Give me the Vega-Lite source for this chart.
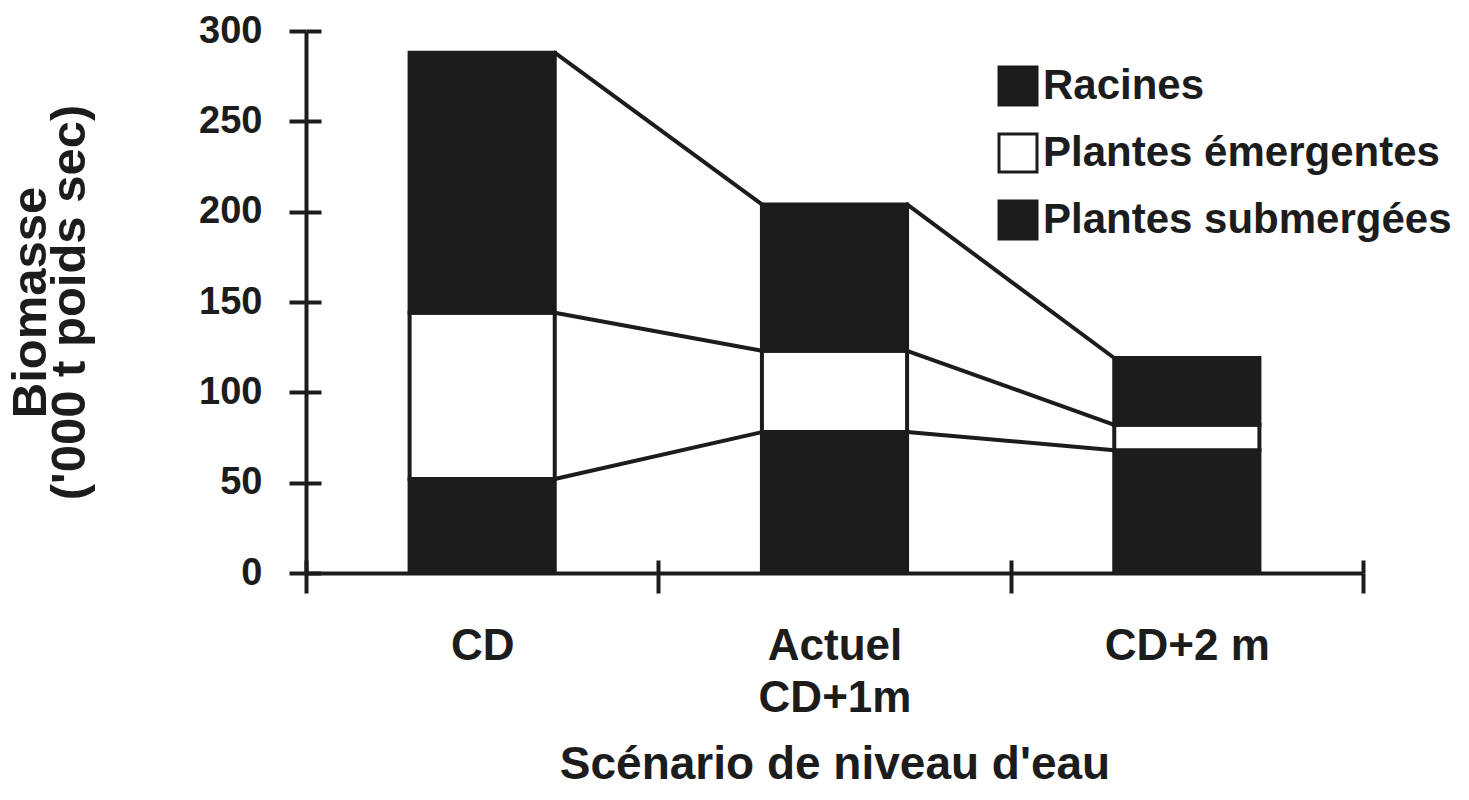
{
  "$schema": "https://vega.github.io/schema/vega-lite/v6.json",
  "width": 1057,
  "height": 542,
  "autosize": "none",
  "padding": {"left": 306, "top": 31, "right": 106, "bottom": 227},
  "background": "white",
  "config": {
    "view": {"stroke": null},
    "font": "Liberation Sans",
    "axis": {
      "domainColor": "#1c1c1c",
      "tickColor": "#1c1c1c",
      "labelColor": "#1c1c1c",
      "titleColor": "#1c1c1c",
      "domainWidth": 4,
      "tickWidth": 4,
      "labelFont": "Liberation Sans",
      "labelFontWeight": "bold",
      "titleFont": "Liberation Sans",
      "titleFontWeight": "bold"
    }
  },
  "datasets": {
    "biomasse": [
      {"scenario": "CD", "composante": "Plantes submergées", "rang": 1, "biomasse": 52},
      {"scenario": "CD", "composante": "Plantes émergentes", "rang": 2, "biomasse": 92},
      {"scenario": "CD", "composante": "Racines", "rang": 3, "biomasse": 144},
      {"scenario": "Actuel CD+1m", "composante": "Plantes submergées", "rang": 1, "biomasse": 78},
      {"scenario": "Actuel CD+1m", "composante": "Plantes émergentes", "rang": 2, "biomasse": 45},
      {"scenario": "Actuel CD+1m", "composante": "Racines", "rang": 3, "biomasse": 81},
      {"scenario": "CD+2 m", "composante": "Plantes submergées", "rang": 1, "biomasse": 68},
      {"scenario": "CD+2 m", "composante": "Plantes émergentes", "rang": 2, "biomasse": 14},
      {"scenario": "CD+2 m", "composante": "Racines", "rang": 3, "biomasse": 37}
    ],
    "liaisons": [
      {"de": "CD", "a": "Actuel CD+1m", "debut": 52, "fin": 78},
      {"de": "CD", "a": "Actuel CD+1m", "debut": 144, "fin": 123},
      {"de": "CD", "a": "Actuel CD+1m", "debut": 288, "fin": 204},
      {"de": "Actuel CD+1m", "a": "CD+2 m", "debut": 78, "fin": 68},
      {"de": "Actuel CD+1m", "a": "CD+2 m", "debut": 123, "fin": 82},
      {"de": "Actuel CD+1m", "a": "CD+2 m", "debut": 204, "fin": 119}
    ]
  },
  "layer": [
    {
      "data": {"name": "biomasse"},
      "mark": {"type": "bar", "width": {"band": 0.412}, "stroke": "#1c1c1c", "strokeWidth": 4},
      "encoding": {
        "x": {
          "field": "scenario",
          "type": "nominal",
          "scale": {"domain": ["CD", "Actuel CD+1m", "CD+2 m"], "paddingInner": 0, "paddingOuter": 0},
          "axis": {
            "orient": "bottom",
            "tickBand": "extent",
            "tickSize": 20,
            "grid": true,
            "gridColor": "#1c1c1c",
            "gridOpacity": 1,
            "gridWidth": 4,
            "gridDash": [0, 529, 13, 3000],
            "labelAngle": 0,
            "labelPadding": 31,
            "labelFontSize": 44,
            "labelLineHeight": 52,
            "labelExpr": "datum.label == 'Actuel CD+1m' ? ['Actuel', 'CD+1m'] : datum.label",
            "title": "Scénario de niveau d'eau",
            "titleFontSize": 46,
            "titleY": 169,
            "titleBaseline": "top"
          }
        },
        "y": {
          "field": "biomasse",
          "type": "quantitative",
          "stack": "zero",
          "scale": {"domain": [0, 300], "nice": false},
          "axis": {
            "orient": "left",
            "values": [0, 50, 100, 150, 200, 250, 300],
            "tickSize": 17,
            "grid": true,
            "gridColor": "#1c1c1c",
            "gridOpacity": 1,
            "gridWidth": 4,
            "gridDash": [15, 3000],
            "labelPadding": 27,
            "labelFontSize": 38,
            "title": ["Biomasse", "('000 t poids sec)"],
            "titleFontSize": 49,
            "titleLineHeight": 39,
            "titleAngle": -90,
            "titleBaseline": "bottom",
            "titleAlign": "center",
            "titleX": -251,
            "titleY": 271,
            "titleLimit": 1000
          }
        },
        "color": {
          "field": "composante",
          "type": "nominal",
          "scale": {"domain": ["Racines", "Plantes émergentes", "Plantes submergées"], "range": ["#1c1c1c", "#ffffff", "#1c1c1c"]},
          "legend": {
            "title": null,
            "orient": "none",
            "legendX": 691,
            "legendY": 34,
            "direction": "vertical",
            "padding": 0,
            "symbolType": "square",
            "symbolSize": 1444,
            "symbolStrokeColor": "#1c1c1c",
            "symbolStrokeWidth": 3,
            "symbolOpacity": 1,
            "labelFont": "Liberation Sans",
            "labelFontWeight": "bold",
            "labelFontSize": 42,
            "labelColor": "#1c1c1c",
            "labelOffset": 4,
            "labelLimit": 800,
            "rowPadding": 17
          }
        },
        "order": {"field": "rang", "type": "quantitative"}
      }
    },
    {
      "data": {"name": "liaisons"},
      "mark": {"type": "rule", "stroke": "#1c1c1c", "strokeWidth": 4, "strokeCap": "round"},
      "encoding": {
        "x": {
          "field": "de",
          "type": "nominal",
          "bandPosition": 0.706,
          "axis": {"orient": "bottom", "tickBand": "extent", "ticks": false, "labels": false, "domain": false, "title": null}
        },
        "x2": {"field": "a", "bandPosition": 0.294},
        "y": {
          "field": "debut",
          "type": "quantitative",
          "axis": {"orient": "left", "ticks": false, "labels": false, "domain": false, "title": null}
        },
        "y2": {"field": "fin"}
      }
    }
  ],
  "resolve": {"axis": {"x": "independent", "y": "independent"}}
}
